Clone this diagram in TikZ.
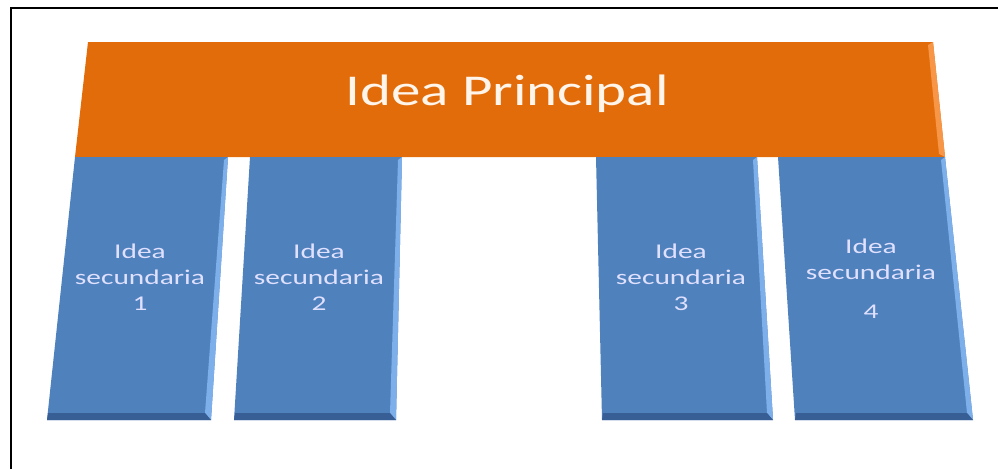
\documentclass[tikz,border=0pt]{standalone}
\usepackage{fontspec}
\setmainfont{Carlito}
\definecolor{ideaorange}{RGB}{227,108,10}
\definecolor{ideaorangelight}{RGB}{246,150,70}
\definecolor{ideablue}{RGB}{79,129,189}
\definecolor{ideabluelight}{RGB}{125,175,235}
\definecolor{ideabluedark}{RGB}{55,95,150}
\begin{document}
\begin{tikzpicture}[x=1pt, y=-1pt,
    principal/.style ={anchor=base, text=white!92!orange, xscale=1.34,
                       font=\fontsize{44}{52}\selectfont},
    secundaria/.style ={align=center, text=white!88!blue, xscale=1.4,
                       font=\fontsize{21}{26}\selectfont}]
   \useasboundingbox (0,0) rectangle (998,469);
   \draw[line width=2pt] (11,469) -- (11,8) -- (998,8);
   % barra principal
   \fill[ideaorange] (88,42) -- (933,42) -- (945,157) -- (75,157) -- cycle;
   \fill[ideaorangelight] (928,45) -- (933,42) -- (945,157) -- (939,154) -- cycle;
   \node[principal] (P) at (507,105) {Idea Principal};
   % ideas secundarias
   \foreach \tl/\tr/\bl/\br/\cx/\n in {75/228/47/211/140/1, 250/402/234/396/319/2,
                                      596/757/602/773/681/3, 778/945/795/973/871/4} {
     \fill[ideablue] (\tl,157) -- (\tr,157) -- (\br,420) -- (\bl,420) -- cycle;
     \fill[ideabluelight] (\tr-4,160) -- (\tr,157) -- (\br,420) -- (\br-6,413) -- cycle;
     \fill[ideabluedark] (\bl+1,413) -- (\br-6,413) -- (\br,420) -- (\bl,420) -- cycle;
   }
   \node[secundaria] (S1) at (140,277) {Idea\\secundaria\\1};
   \node[secundaria] (S2) at (319,277) {Idea\\secundaria\\2};
   \node[secundaria] (S3) at (681,277) {Idea\\secundaria\\3};
   \node[secundaria] (S4) at (871,279) {Idea\\secundaria\\[13pt]4};
\end{tikzpicture}
\end{document}
